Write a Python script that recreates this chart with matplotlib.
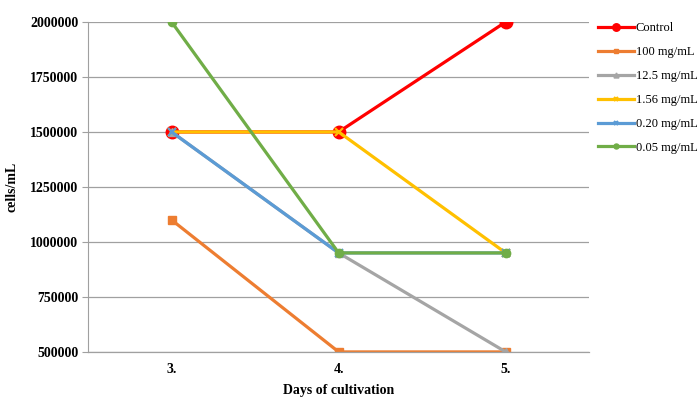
import matplotlib.pyplot as plt

days = ['3.', '4.', '5.']
series = ['Control', '100 mg/mL', '12.5 mg/mL', '1.56 mg/mL', '0.20 mg/mL', '0.05 mg/mL']
control = [1500000, 1500000, 2000000]
c100 = [1100000, 500000, 500000]
c12_5 = [1500000, 950000, 500000]
c1_56 = [1500000, 1500000, 950000]
c0_20 = [1500000, 950000, 950000]
c0_05 = [2000000, 950000, 950000]

colors = ['#FF0000', '#ED7D31', '#A5A5A5', '#FFC000', '#5B9BD5', '#70AD47']
markers = ['o', 's', '^', 'x', 'x', 'o']
sizes = [9, 6, 6, 6, 6, 6]

plt.rcParams['font.family'] = ['Liberation Serif', 'DejaVu Serif']

fig = plt.figure(figsize=(6.99, 3.99), dpi=100)
ax = fig.add_axes([0.126, 0.118, 0.717, 0.827])

x = range(len(days))
for name, vals, c, m, s in zip(series, [control, c100, c12_5, c1_56, c0_20, c0_05],
                               colors, markers, sizes):
    ax.plot(x, vals, color=c, marker=m, markersize=s, linewidth=2.3,
            markeredgewidth=1.5 if m == 'x' else 1, label=name)

ax.set_xlim(-0.5, 2.5)
ax.set_ylim(500000, 2000000)
ax.set_yticks(range(500000, 2000001, 250000))
ax.set_yticklabels([str(v) for v in range(500000, 2000001, 250000)],
                   fontsize=10, fontweight='bold')
ax.set_xticks(list(x))
ax.set_xticklabels(days, fontsize=10, fontweight='bold')
ax.tick_params(axis='x', length=0, pad=8)
ax.tick_params(axis='y', length=4, color='#A0A0A0', pad=3)
ax.grid(axis='y', color='#A0A0A0', linewidth=0.9)
ax.set_axisbelow(True)
for side in ['top', 'right']:
    ax.spines[side].set_visible(False)
ax.spines['left'].set_color('#A0A0A0')
ax.spines['bottom'].set_color('#A0A0A0')
ax.spines['bottom'].set_linewidth(0.9)

ax.set_ylabel('cells/mL', fontsize=10, fontweight='bold', labelpad=8)
ax.set_xlabel('Days of cultivation', fontsize=10, fontweight='bold', labelpad=6)

ax.legend(loc='upper left', bbox_to_anchor=(1.0, 1.025), frameon=False,
          fontsize=9, handlelength=2.9, handletextpad=0.1, labelspacing=0.95,
          borderaxespad=0.3, markerscale=0.6)

fig.savefig('out.png', dpi=100)
